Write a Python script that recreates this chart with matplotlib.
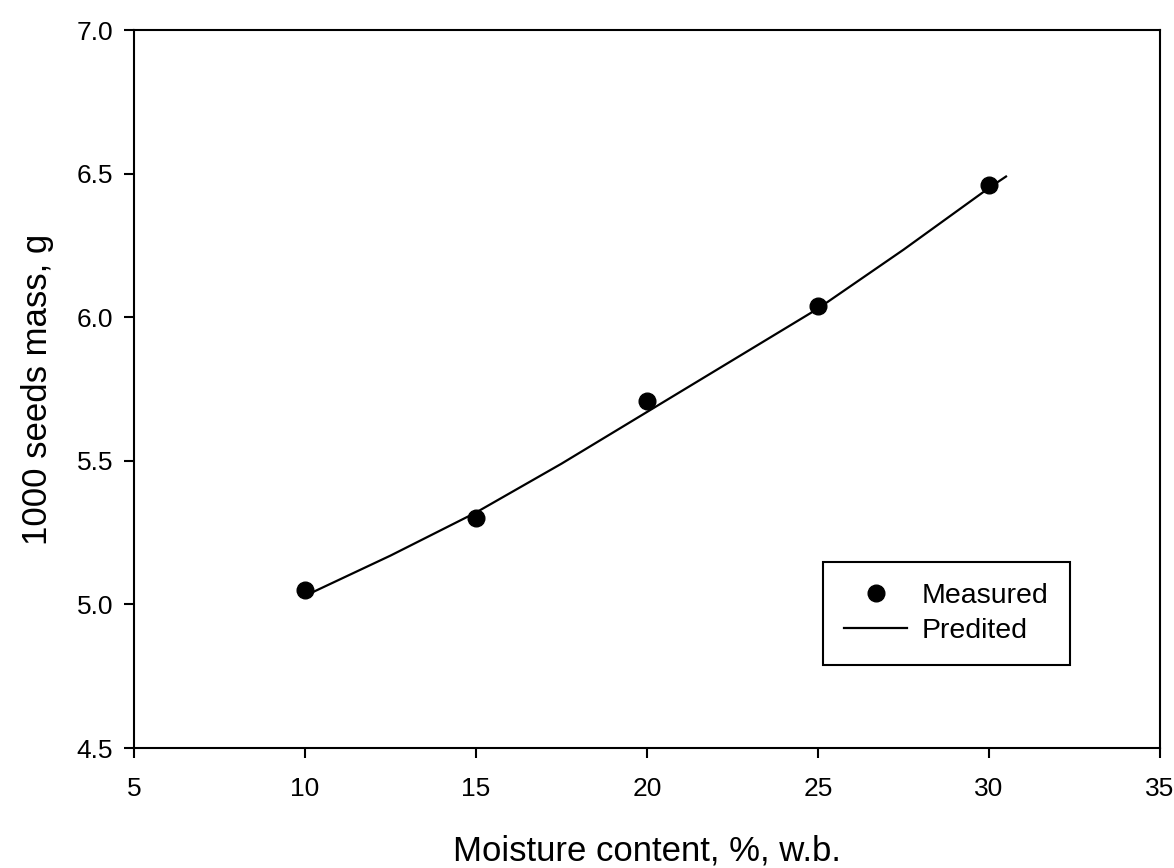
import matplotlib
matplotlib.use('Agg')
import matplotlib.pyplot as plt

# measured 1000 seed mass vs moisture content
moisture = [10, 15, 20, 25, 30]
mass_measured = [5.05, 5.30, 5.71, 6.04, 6.46]

# predicted curve
moisture_pred = [10, 12.5, 15, 17.5, 20, 22.5, 25, 27.5, 30, 30.5]
mass_pred = [5.03, 5.17, 5.32, 5.49, 5.67, 5.85, 6.03, 6.235, 6.45, 6.49]

plt.rcParams['font.family'] = ['Liberation Sans', 'DejaVu Sans']

fig = plt.figure(figsize=(11.74, 8.68), dpi=100)
ax = fig.add_axes([0.1141, 0.1382, 0.8739, 0.8272])

ax.plot(moisture, mass_measured, 'o', color='black', markersize=12, label='Measured', zorder=3)
ax.plot(moisture_pred, mass_pred, '-', color='black', linewidth=1.6, label='Predited')

ax.set_xlim(5, 35)
ax.set_ylim(4.5, 7.0)
ax.set_xticks([5, 10, 15, 20, 25, 30, 35])
ax.set_yticks([4.5, 5.0, 5.5, 6.0, 6.5, 7.0])
ax.set_yticklabels(['4.5', '5.0', '5.5', '6.0', '6.5', '7.0'])

for s in ax.spines.values():
    s.set_linewidth(1.5)
ax.tick_params(axis='both', direction='out', length=7, width=1.5, labelsize=19)
ax.tick_params(axis='x', pad=14)
ax.tick_params(axis='y', pad=8)

ax.set_xlabel('Moisture content, %, w.b.', fontsize=25, labelpad=24)
ax.set_ylabel('1000 seeds mass, g', fontsize=25, labelpad=16)

leg = ax.legend(loc='lower left', bbox_to_anchor=(0.6715, 0.1156), fontsize=20.5,
                frameon=True, fancybox=False, edgecolor='black', framealpha=1,
                numpoints=1, handlelength=2.2, handletextpad=0.53,
                labelspacing=0.3, borderpad=0.75, borderaxespad=0)
leg.get_frame().set_linewidth(1.5)

plt.savefig('out.png', dpi=100)
